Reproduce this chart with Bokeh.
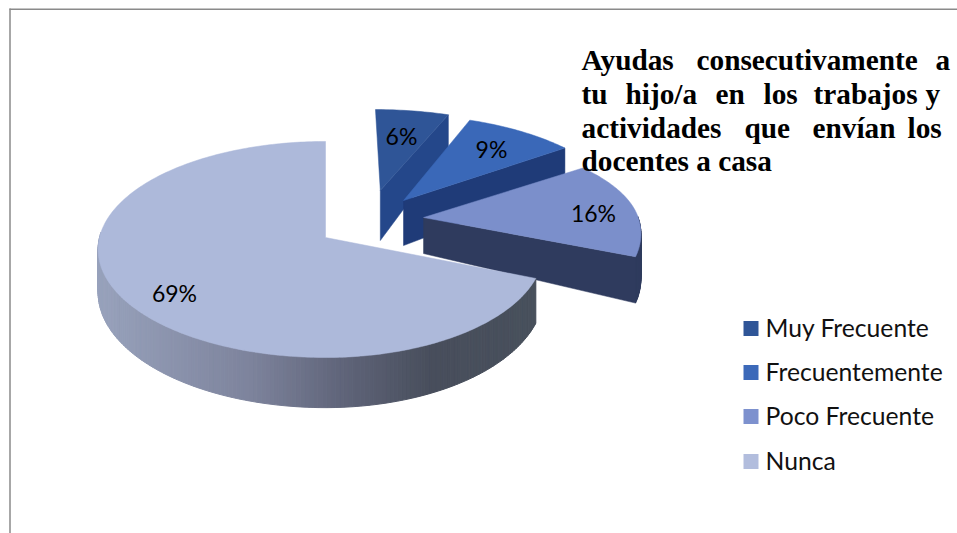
import math
from bokeh.plotting import figure
from bokeh.models import Range1d
from bokeh.core.properties import value
from bokeh.embed import file_html
from bokeh.resources import INLINE

# ---- data ----
categories = ["Muy Frecuente", "Frecuentemente", "Poco Frecuente", "Nunca"]
shares = [6, 9, 16, 69]
title_lines = [
    ["Ayudas", "consecutivamente", "a"],
    ["tu", "hijo/a", "en", "los", "trabajos", "y"],
    ["actividades", "que", "envían", "los"],
    ["docentes a casa"],
]

# ---- styles / layout ----
top_colors = ["#2f5597", "#3a68b8", "#7b8fcb", "#adb9da"]
side_colors = ["#24478a", "#1f3b78", "#2f3b5e", None]
legend_colors = ["#2f5597", "#3c69b9", "#7d91ce", "#b2bddd"]
explode = [(0.255, 0.463), (0.359, 0.36), (0.443, 0.191), (0.0, 0.0)]
apex_depth = [50, 45, 36, 0]
right_scale = [1.0, 1.0, 0.97, 0.96]
far_scale = [0.92, 0.96, 0.87, 1.0]
depth_scale = [1.0, 1.0, 1.07, 1.0]
label_pos = [(401, 135), (491, 148), (593, 212), (174, 292)]
legend_y = [327, 371, 415, 460]
title_x = [[581, 696, 935], [581, 625, 715, 763, 813, 925], [581, 744, 812, 907], [581]]
title_y = [59, 93, 127, 160]
grad_stops = [(97, (152, 162, 188)), (250, (125, 131, 156)), (340, (96, 101, 122)),
              (430, (72, 78, 92)), (535, (72, 80, 92))]
CX, CY, A, K, P, D = 325, 237, 226, 106.7, 0.111, 42

p = figure(width=957, height=533, output_backend="svg", toolbar_location=None,
           x_range=Range1d(0, 957), y_range=Range1d(533, 0),
           x_axis_location=None, y_axis_location=None, min_border=0,
           outline_line_color=None, background_fill_color="white")
p.grid.visible = False


def proj(u, v):
    w = 1 + P * v
    return CX + A * u / w, CY - K * v / w


def depth(v):
    return D / (1 + P * v) ** 1.5


def grad(x):
    if x <= grad_stops[0][0]:
        return grad_stops[0][1]
    for (x0, c0), (x1, c1) in zip(grad_stops, grad_stops[1:]):
        if x <= x1:
            t = (x - x0) / (x1 - x0)
            return tuple(round(a + (b - a) * t) for a, b in zip(c0, c1))
    return grad_stops[-1][1]


start = 0.0
total = sum(shares)
for i, s in enumerate(shares):
    end = start + 360.0 * s / total
    ou, ov = explode[i]
    n = max(3, int(end - start))
    thetas = [start + (end - start) * k / n for k in range(n + 1)]
    pts = []
    for t in thetas:
        su = math.sin(math.radians(t))
        cv = math.cos(math.radians(t))
        pts.append((ou + (su * right_scale[i] if su > 0 else su),
                    ov + (cv * far_scale[i] if cv > 0 else cv)))

    # rim wall, visible on the near half only
    qx, qy, qc = [], [], []
    for (t0, a), (t1, b) in zip(zip(thetas, pts), zip(thetas[1:], pts[1:])):
        if t1 <= 90 or t0 >= 272:
            continue
        x0, y0 = proj(*a)
        x1, y1 = proj(*b)
        qx.append([x0, x1, x1, x0])
        qy.append([y0, y1, y1 + depth(b[1]) * depth_scale[i], y0 + depth(a[1]) * depth_scale[i]])
        if side_colors[i] is None:
            r, g, bl = grad((x0 + x1) / 2)
            qc.append(f"#{r:02x}{g:02x}{bl:02x}")
        else:
            qc.append(side_colors[i])
    if qx:
        p.patches(qx, qy, fill_color=qc, line_color=qc, line_width=1)

    # cut wall along the slice's clockwise edge
    ax, ay = proj(ou, ov)
    if apex_depth[i] > 0:
        ex, ey = proj(*pts[-1])
        p.patch([ax, ex, ex, ax],
                [ay, ey, ey + depth(pts[-1][1]) * depth_scale[i], ay + apex_depth[i]],
                fill_color=side_colors[i], line_color=side_colors[i], line_width=0.5)

    # top face
    xs = [ax] + [proj(*q)[0] for q in pts]
    ys = [ay] + [proj(*q)[1] for q in pts]
    p.patch(xs, ys, fill_color=top_colors[i], line_color=top_colors[i], line_width=0.5)
    start = end

# percentage labels
p.text([q[0] for q in label_pos], [q[1] for q in label_pos],
       text=[f"{s}%" for s in shares], text_font=value("Lato"), text_font_size="23px",
       text_align="center", text_baseline="middle", text_color="#000000")

# legend
p.quad(left=[743] * 4, right=[758] * 4,
       top=[y - 6.5 for y in legend_y], bottom=[y + 8.5 for y in legend_y],
       fill_color=legend_colors, line_color=None)
p.text([765] * 4, legend_y, text=categories, text_font=value("Lato"), text_font_size="24.7px",
       text_align="left", text_baseline="middle", text_color="#111111")

# title, justified word by word
for words, xs, y in zip(title_lines, title_x, title_y):
    p.text(xs, [y] * len(xs), text=words, text_font=value("Liberation Serif"),
           text_font_style="bold", text_font_size="29.3px",
           text_align="left", text_baseline="alphabetic", text_color="#000000")

# chart frame: top and left edges only
p.segment([9, 9.5], [8.8, 8], [957, 9.5], [8.8, 533], line_color="#8a8a8a", line_width=1.5)

open("out.html", "w").write(file_html(p, INLINE))
